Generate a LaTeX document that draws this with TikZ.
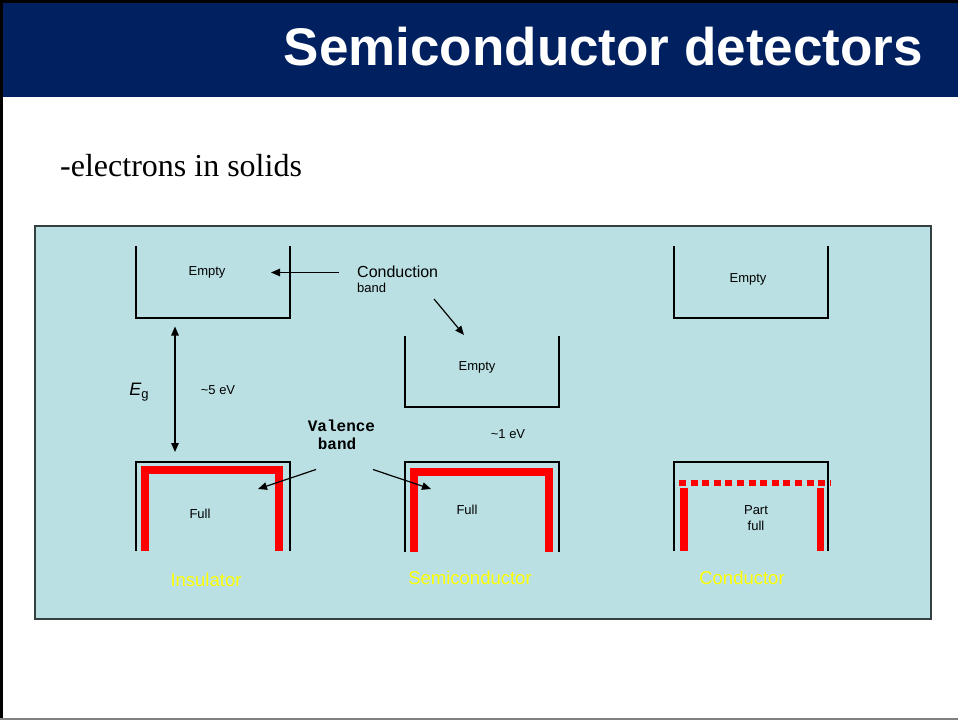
\documentclass[tikz,border=0pt]{standalone}
\usepackage{fontspec}
\setmainfont{Liberation Sans}
\newfontfamily\timesf{Liberation Serif}
\newfontfamily\courf{Liberation Mono}
\usetikzlibrary{arrows.meta}
\definecolor{navy}{RGB}{0,32,96}
\definecolor{panel}{RGB}{186,224,227}
\definecolor{panelborder}{RGB}{52,64,64}
\definecolor{bandred}{RGB}{255,0,0}
\definecolor{labelyellow}{RGB}{255,255,0}
\tikzset{
  lbl/.style={inner sep=0pt, font=\fontsize{13}{15}\selectfont},
  matname/.style={inner sep=0pt, text=labelyellow, font=\fontsize{18.5}{21}\selectfont},
  bandline/.style={line width=2pt, line join=miter},
  redband/.style={draw=bandred, line width=8pt, line join=miter},
  ptr/.style={line width=1.2pt, -{Triangle[length=9pt,width=7.5pt]}},
  dptr/.style={line width=1.2pt, {Triangle[length=9pt,width=7.5pt]}-{Triangle[length=9pt,width=7.5pt]}}
}
\begin{document}
\begin{tikzpicture}[x=1pt,y=-1pt]
\useasboundingbox (0,0) rectangle (958,720);
% slide frame
\fill[white] (0,0) rectangle (958,720);
\fill[navy] (0,0) rectangle (958,97);
\draw[black, line width=3pt] (1.5,720) -- (1.5,1.5) -- (958,1.5);
\draw[gray, line width=2pt] (0,719) -- (958,719);
\node[anchor=base east, inner sep=0pt, text=white, font=\fontsize{53}{60}\selectfont\bfseries] (title) at (923,65) {Semiconductor detectors};
\node[anchor=base west, inner sep=0pt, font=\timesf\fontsize{32}{36}\selectfont] (sub) at (60,176) {-electrons in solids};
% panel
\draw[panelborder, fill=panel, line width=1.3pt] (35,226) rectangle (931,619);

% ---------- Insulator ----------
\draw[bandline] (136,246) -- (136,317.5) -- (290,317.5) -- (290,246);
\node[lbl] (emptyA) at (207,272.5) {Empty};
\draw[redband] (145,551) -- (145,470) -- (279,470) -- (279,551);
\draw[bandline] (136,551) -- (136,461.5) -- (290,461.5) -- (290,551);
\node[lbl] (fullA) at (200,514) {Full};
\node[matname] (ins) at (206,580) {Insulator};

% ---------- Semiconductor ----------
\draw[bandline] (405,336) -- (405,406.5) -- (559,406.5) -- (559,336);
\node[lbl] (emptyB) at (477,367) {Empty};
\draw[redband] (414,552) -- (414,471.7) -- (549,471.7) -- (549,552);
\draw[bandline] (405,552) -- (405,461.5) -- (559,461.5) -- (559,552);
\node[lbl] (fullB) at (467,510) {Full};
\node[matname] (semi) at (470,578) {Semiconductor};
\node[lbl] (gapB) at (508,434.5) {\textasciitilde1 eV};

% ---------- Conductor ----------
\draw[bandline] (674,246) -- (674,318) -- (828,318) -- (828,246);
\node[lbl] (emptyC) at (748,279) {Empty};
\draw[bandline] (674,551) -- (674,461.5) -- (828,461.5) -- (828,551);
\draw[draw=bandred, line width=6pt, dash pattern=on 7pt off 4.6pt] (679,482.7) -- (831,482.7);
\draw[draw=bandred, line width=7.5pt] (684,488) -- (684,551);
\draw[draw=bandred, line width=7.5pt] (820.5,488) -- (820.5,551);
\node[lbl, align=center, font=\fontsize{13}{15.5}\selectfont] (partC) at (756,518) {Part\\full};
\node[matname] (cond) at (742,578) {Conductor};

% ---------- Labels and pointers ----------
\node[anchor=west, inner sep=0pt, font=\fontsize{16}{18}\selectfont] (cb) at (357,271.5) {Conduction};
\node[anchor=west, inner sep=0pt, font=\fontsize{13}{15}\selectfont] (cbband) at (357,288) {band};
\coordinate (cbA) at (339,272.5);
\coordinate (cbAtip) at (271,272.5);
\coordinate (cbB) at (434,299);
\coordinate (cbBtip) at (464,335);
\draw[ptr] (cbA) -- (cbAtip);
\draw[ptr] (cbB) -- (cbBtip);

\coordinate (egtop) at (175,326.5);
\coordinate (egbot) at (175,452);
\draw[dptr] (egtop) -- (egbot);
\node[inner sep=0pt, font=\fontsize{18}{20}\selectfont] (eg) at (139,392) {\textit{E}\raisebox{-3pt}{\fontsize{13}{14}\selectfont g}};
\node[lbl] (gapA) at (218,390.5) {\textasciitilde5 eV};

\node[inner sep=0pt, font=\courf\bfseries\fontsize{16}{18}\selectfont] (val1) at (341.5,425.5) {Valence};
\node[inner sep=0pt, font=\courf\bfseries\fontsize{16}{18}\selectfont] (val2) at (337,444) {band};
\coordinate (vA) at (316,469.5);
\coordinate (vAtip) at (258,489);
\coordinate (vB) at (373,469.5);
\coordinate (vBtip) at (431,489);
\draw[ptr] (vA) -- (vAtip);
\draw[ptr] (vB) -- (vBtip);
\end{tikzpicture}
\end{document}
